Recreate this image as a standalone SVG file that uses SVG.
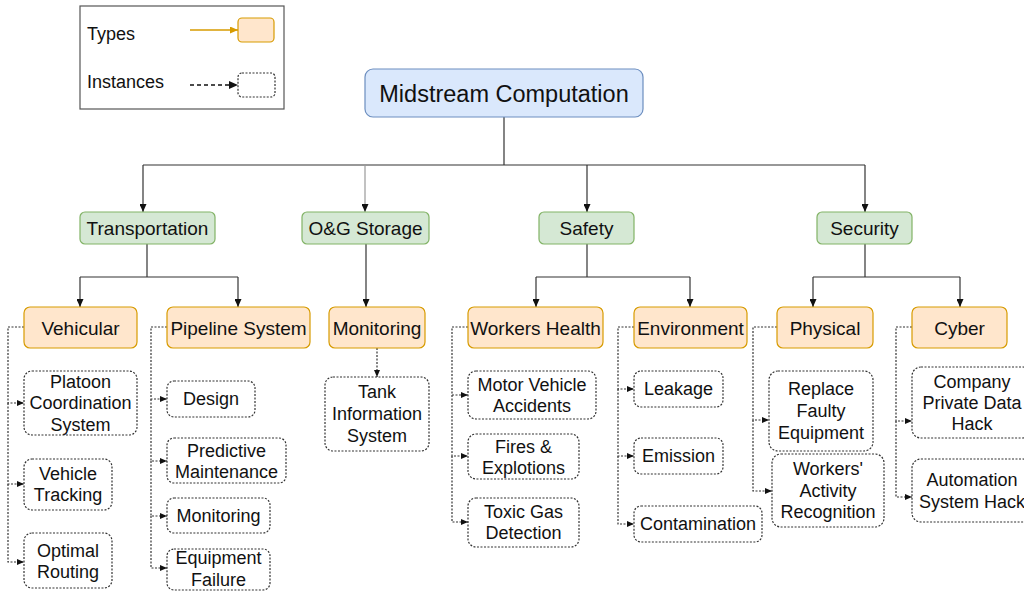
<svg xmlns="http://www.w3.org/2000/svg" width="1024" height="591" viewBox="0 0 1024 591">
  <style>
    text { font-family: "Liberation Sans", Arial, Helvetica, sans-serif; fill: #111; text-anchor: middle; dominant-baseline: central; }
    .root { fill: #dae8fc; stroke: #6c8ebf; stroke-width: 1.2; }
    .cat { fill: #d5e8d4; stroke: #82b366; stroke-width: 1.2; }
    .type { fill: #ffe6cc; stroke: #d79b00; stroke-width: 1.2; }
    .inst { fill: #ffffff; stroke: #333333; stroke-width: 1.2; stroke-dasharray: 2 1.5; }
    .t23 { font-size: 23.5px; }
    .t19 { font-size: 19px; }
    .t18 { font-size: 18px; }
    .solid { fill: none; stroke: #333333; stroke-width: 1.2; }
    .light { fill: none; stroke: #999999; stroke-width: 1.2; }
    .dash { fill: none; stroke: #333333; stroke-width: 1.2; stroke-dasharray: 2 1.5; }
    .legend-dash { fill: none; stroke: #111111; stroke-width: 1.6; stroke-dasharray: 4 3; }
  </style>
  <defs>
    <marker id="arr" viewBox="0 0 8 7" refX="8" refY="3.5" markerWidth="8" markerHeight="7" markerUnits="userSpaceOnUse" orient="auto">
      <path d="M0,0 L8,3.5 L0,7 Z" fill="#111"/>
    </marker>
    <marker id="arrs" viewBox="0 0 7 6" refX="7" refY="3" markerWidth="7" markerHeight="6" markerUnits="userSpaceOnUse" orient="auto">
      <path d="M0,0 L7,3 L0,6 Z" fill="#111"/>
    </marker>
    <marker id="arrl" viewBox="0 0 9 8" refX="9" refY="4" markerWidth="9" markerHeight="8" markerUnits="userSpaceOnUse" orient="auto">
      <path d="M0,0 L9,4 L0,8 Z" fill="#111"/>
    </marker>
    <marker id="arro" viewBox="0 0 8 7" refX="8" refY="3.5" markerWidth="8" markerHeight="7" markerUnits="userSpaceOnUse" orient="auto">
      <path d="M0,0 L8,3.5 L0,7 Z" fill="#d79b00"/>
    </marker>
  </defs>
  <rect width="1024" height="591" fill="#ffffff"/>

  <!-- legend -->
  <g id="legend">
    <rect x="80" y="6" width="204" height="103" fill="#ffffff" stroke="#555555" stroke-width="1.2"/>
    <text x="87" y="34" class="t18" style="text-anchor:start">Types</text>
    <text x="87" y="82" class="t18" style="text-anchor:start">Instances</text>
    <line x1="190" y1="30" x2="238" y2="30" stroke="#d79b00" stroke-width="1.4" marker-end="url(#arro)"/>
    <rect x="238" y="18" width="36" height="24" rx="4" class="type"/>
    <line x1="190" y1="85" x2="238" y2="85" class="legend-dash" marker-end="url(#arrl)"/>
    <rect x="238" y="73" width="37" height="24" rx="4" class="inst"/>
  </g>

  <!-- connectors -->
  <g id="connectors">
    <!-- root to categories -->
    <path d="M504,117 V165" class="solid"/>
    <path d="M143,165 H865" class="solid"/>
    <path d="M143,165 V212" class="solid" marker-end="url(#arr)"/>
    <path d="M365,165 V212" class="light" marker-end="url(#arr)"/>
    <path d="M587,165 V212" class="solid" marker-end="url(#arr)"/>
    <path d="M865,165 V212" class="solid" marker-end="url(#arr)"/>
    <!-- categories to types -->
    <path d="M147,244 V277" class="solid"/>
    <path d="M80,277 H238" class="solid"/>
    <path d="M80,277 V307" class="solid" marker-end="url(#arr)"/>
    <path d="M238,277 V307" class="solid" marker-end="url(#arr)"/>
    <path d="M366,244 V307" class="solid" marker-end="url(#arr)"/>
    <path d="M587,244 V277" class="solid"/>
    <path d="M536,277 H690" class="solid"/>
    <path d="M536,277 V307" class="solid" marker-end="url(#arr)"/>
    <path d="M690,277 V307" class="solid" marker-end="url(#arr)"/>
    <path d="M865,244 V277" class="solid"/>
    <path d="M813,277 H960" class="solid"/>
    <path d="M813,277 V307" class="solid" marker-end="url(#arr)"/>
    <path d="M960,277 V307" class="solid" marker-end="url(#arr)"/>
    <!-- types to instances -->
    <path d="M24,327 H8 V403 H24" class="dash" marker-end="url(#arrs)"/>
    <path d="M8,403 V484 H24" class="dash" marker-end="url(#arrs)"/>
    <path d="M8,484 V562 H24" class="dash" marker-end="url(#arrs)"/>
    <path d="M167,327 H151 V399 H167" class="dash" marker-end="url(#arrs)"/>
    <path d="M151,399 V461 H167" class="dash" marker-end="url(#arrs)"/>
    <path d="M151,461 V516 H167" class="dash" marker-end="url(#arrs)"/>
    <path d="M151,516 V568 H167" class="dash" marker-end="url(#arrs)"/>
    <path d="M377,348 V377" class="dash" marker-end="url(#arrs)"/>
    <path d="M468,327 H452 V395 H468" class="dash" marker-end="url(#arrs)"/>
    <path d="M452,395 V456 H468" class="dash" marker-end="url(#arrs)"/>
    <path d="M452,456 V522 H468" class="dash" marker-end="url(#arrs)"/>
    <path d="M634,327 H618 V389 H634" class="dash" marker-end="url(#arrs)"/>
    <path d="M618,389 V456 H634" class="dash" marker-end="url(#arrs)"/>
    <path d="M618,456 V524 H634" class="dash" marker-end="url(#arrs)"/>
    <path d="M777,327 H753 V420 H769" class="dash" marker-end="url(#arrs)"/>
    <path d="M753,420 V491 H772" class="dash" marker-end="url(#arrs)"/>
    <path d="M912,327 H896 V421 H912" class="dash" marker-end="url(#arrs)"/>
    <path d="M896,421 V497 H912" class="dash" marker-end="url(#arrs)"/>
  </g>

  <!-- root -->
  <g id="midstream">
    <rect x="365" y="69" width="278" height="48" rx="8" class="root"/>
    <text x="504" y="94" class="t23">Midstream Computation</text>
  </g>

  <!-- categories -->
  <g id="transportation">
    <rect x="80" y="212" width="135" height="32" rx="5" class="cat"/>
    <text x="147.5" y="228.5" class="t19">Transportation</text>
  </g>
  <g id="og-storage">
    <rect x="302" y="212" width="127" height="32" rx="5" class="cat"/>
    <text x="365.5" y="228.5" class="t19">O&amp;G Storage</text>
  </g>
  <g id="safety">
    <rect x="539" y="212" width="95" height="32" rx="5" class="cat"/>
    <text x="586.5" y="228.5" class="t19">Safety</text>
  </g>
  <g id="security">
    <rect x="817" y="212" width="95" height="32" rx="5" class="cat"/>
    <text x="864.5" y="228.5" class="t19">Security</text>
  </g>

  <!-- types -->
  <g id="vehicular">
    <rect x="24" y="307" width="113" height="41" rx="6" class="type"/>
    <text x="80.5" y="328" class="t19">Vehicular</text>
  </g>
  <g id="pipeline-system">
    <rect x="167" y="307" width="143" height="41" rx="6" class="type"/>
    <text x="238.5" y="328" class="t19">Pipeline System</text>
  </g>
  <g id="monitoring-storage">
    <rect x="329" y="307" width="96" height="41" rx="6" class="type"/>
    <text x="377" y="328" class="t19">Monitoring</text>
  </g>
  <g id="workers-health">
    <rect x="468" y="307" width="135" height="41" rx="6" class="type"/>
    <text x="535.5" y="328" class="t19">Workers Health</text>
  </g>
  <g id="environment">
    <rect x="634" y="307" width="113" height="41" rx="6" class="type"/>
    <text x="690.5" y="328" class="t19">Environment</text>
  </g>
  <g id="physical">
    <rect x="777" y="307" width="96" height="41" rx="6" class="type"/>
    <text x="825" y="328" class="t19">Physical</text>
  </g>
  <g id="cyber">
    <rect x="912" y="307" width="95" height="41" rx="6" class="type"/>
    <text x="959.5" y="328" class="t19">Cyber</text>
  </g>

  <!-- instances: vehicular -->
  <g id="platoon">
    <rect x="24" y="371" width="113" height="64" rx="8" class="inst"/>
    <text x="80.5" y="382" class="t18">Platoon</text>
    <text x="80.5" y="403" class="t18">Coordination</text>
    <text x="80.5" y="425" class="t18">System</text>
  </g>
  <g id="vehicle-tracking">
    <rect x="24" y="459" width="88" height="51" rx="8" class="inst"/>
    <text x="68" y="474" class="t18">Vehicle</text>
    <text x="68" y="495" class="t18">Tracking</text>
  </g>
  <g id="optimal-routing">
    <rect x="24" y="533" width="88" height="55" rx="8" class="inst"/>
    <text x="68" y="551" class="t18">Optimal</text>
    <text x="68" y="572" class="t18">Routing</text>
  </g>

  <!-- instances: pipeline system -->
  <g id="design">
    <rect x="167" y="381" width="88" height="36" rx="7" class="inst"/>
    <text x="211" y="399" class="t18">Design</text>
  </g>
  <g id="predictive-maintenance">
    <rect x="167" y="438" width="119" height="45" rx="7" class="inst"/>
    <text x="226.5" y="451" class="t18">Predictive</text>
    <text x="226.5" y="472" class="t18">Maintenance</text>
  </g>
  <g id="pipeline-monitoring">
    <rect x="167" y="498" width="103" height="35" rx="7" class="inst"/>
    <text x="218.5" y="516" class="t18">Monitoring</text>
  </g>
  <g id="equipment-failure">
    <rect x="167" y="549" width="103" height="41" rx="7" class="inst"/>
    <text x="218.5" y="558" class="t18">Equipment</text>
    <text x="218.5" y="580" class="t18">Failure</text>
  </g>

  <!-- instances: storage monitoring -->
  <g id="tank-information-system">
    <rect x="325" y="377" width="104" height="74" rx="8" class="inst"/>
    <text x="377" y="392" class="t18">Tank</text>
    <text x="377" y="414" class="t18">Information</text>
    <text x="377" y="436" class="t18">System</text>
  </g>

  <!-- instances: workers health -->
  <g id="motor-vehicle-accidents">
    <rect x="468" y="371" width="128" height="48" rx="8" class="inst"/>
    <text x="532" y="385" class="t18">Motor Vehicle</text>
    <text x="532" y="406" class="t18">Accidents</text>
  </g>
  <g id="fires-explotions">
    <rect x="468" y="434" width="111" height="45" rx="8" class="inst"/>
    <text x="523.5" y="447" class="t18">Fires &amp;</text>
    <text x="523.5" y="468" class="t18">Explotions</text>
  </g>
  <g id="toxic-gas-detection">
    <rect x="468" y="498" width="111" height="49" rx="8" class="inst"/>
    <text x="523.5" y="512" class="t18">Toxic Gas</text>
    <text x="523.5" y="533" class="t18">Detection</text>
  </g>

  <!-- instances: environment -->
  <g id="leakage">
    <rect x="634" y="371" width="89" height="36" rx="7" class="inst"/>
    <text x="678.5" y="389" class="t18">Leakage</text>
  </g>
  <g id="emission">
    <rect x="634" y="438" width="89" height="36" rx="7" class="inst"/>
    <text x="678.5" y="456" class="t18">Emission</text>
  </g>
  <g id="contamination">
    <rect x="634" y="506" width="128" height="36" rx="7" class="inst"/>
    <text x="698" y="524" class="t18">Contamination</text>
  </g>

  <!-- instances: physical -->
  <g id="replace-faulty-equipment">
    <rect x="769" y="371" width="104" height="80" rx="9" class="inst"/>
    <text x="821" y="389" class="t18">Replace</text>
    <text x="821" y="411" class="t18">Faulty</text>
    <text x="821" y="433" class="t18">Equipment</text>
  </g>
  <g id="workers-activity-recognition">
    <rect x="772" y="454" width="112" height="73" rx="9" class="inst"/>
    <text x="828" y="469" class="t18">Workers'</text>
    <text x="828" y="491" class="t18">Activity</text>
    <text x="828" y="512" class="t18">Recognition</text>
  </g>

  <!-- instances: cyber -->
  <g id="company-private-data-hack">
    <rect x="912" y="367" width="120" height="71" rx="9" class="inst"/>
    <text x="972" y="382" class="t18">Company</text>
    <text x="972" y="403" class="t18">Private Data</text>
    <text x="972" y="424" class="t18">Hack</text>
  </g>
  <g id="automation-system-hack">
    <rect x="912" y="459" width="120" height="63" rx="9" class="inst"/>
    <text x="972" y="480" class="t18">Automation</text>
    <text x="972" y="502" class="t18">System Hack</text>
  </g>
</svg>
